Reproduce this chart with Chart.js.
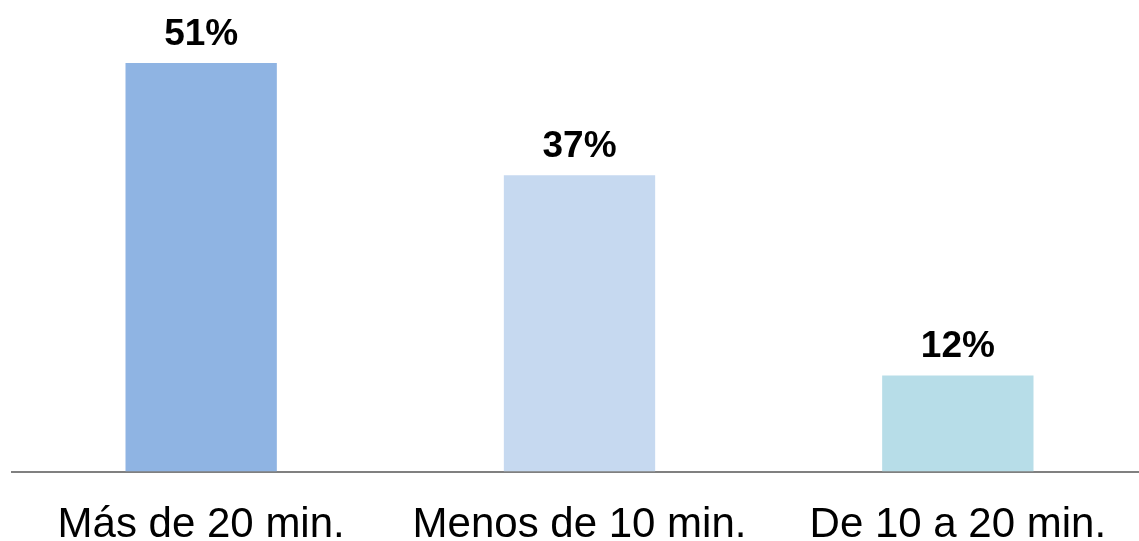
<!DOCTYPE html>
<html>
<head>
<meta charset="utf-8">
<script src="https://cdn.jsdelivr.net/npm/chart.js@4/dist/chart.umd.min.js"></script>
<style>
  html, body { margin: 0; padding: 0; background: #fff; overflow: hidden; }
</style>
</head>
<body>
<canvas id="myChart" width="1150" height="580"></canvas>
<script>
// Chart data
var categories = ["Más de 20 min.", "Menos de 10 min.", "De 10 a 20 min."];
var values = [51, 37, 12];
var barColors = ['#8FB4E3', '#C6D9F0', '#B7DDE8'];

// Draws the percentage above each bar.
var valueLabels = {
  id: 'valueLabels',
  afterDatasetsDraw: function(chart) {
    var ctx = chart.ctx;
    var meta = chart.getDatasetMeta(0);
    ctx.save();
    ctx.font = 'bold 37px "Liberation Sans", Arial, sans-serif';
    ctx.fillStyle = '#000';
    ctx.textAlign = 'center';
    ctx.textBaseline = 'alphabetic';
    meta.data.forEach(function(bar, i) {
      ctx.fillText(values[i] + '%', bar.x, bar.y - 18);
    });
    ctx.restore();
  }
};

var ctx = document.getElementById("myChart");
var myChart = new Chart(ctx, {
  type: 'bar',
  data: {
    labels: categories,
    datasets: [{
      data: values,
      backgroundColor: barColors,
      borderWidth: 0,
      barPercentage: 0.4,
      categoryPercentage: 1
    }]
  },
  options: {
    responsive: false,
    animation: false,
    layout: { padding: { left: 12, right: 3, top: 31, bottom: 0 } },
    plugins: {
      legend: { display: false },
      tooltip: { enabled: false }
    },
    scales: {
      x: {
        grid: { display: false, drawTicks: false },
        border: { display: true, color: '#808080', width: 2 },
        ticks: {
          color: '#000',
          padding: 29,
          maxRotation: 0,
          autoSkip: false,
          font: { family: '"Liberation Sans", Arial, sans-serif', size: 42 }
        }
      },
      y: {
        display: false,
        min: 0,
        max: 55
      }
    }
  },
  plugins: [valueLabels]
});
</script>
</body>
</html>
